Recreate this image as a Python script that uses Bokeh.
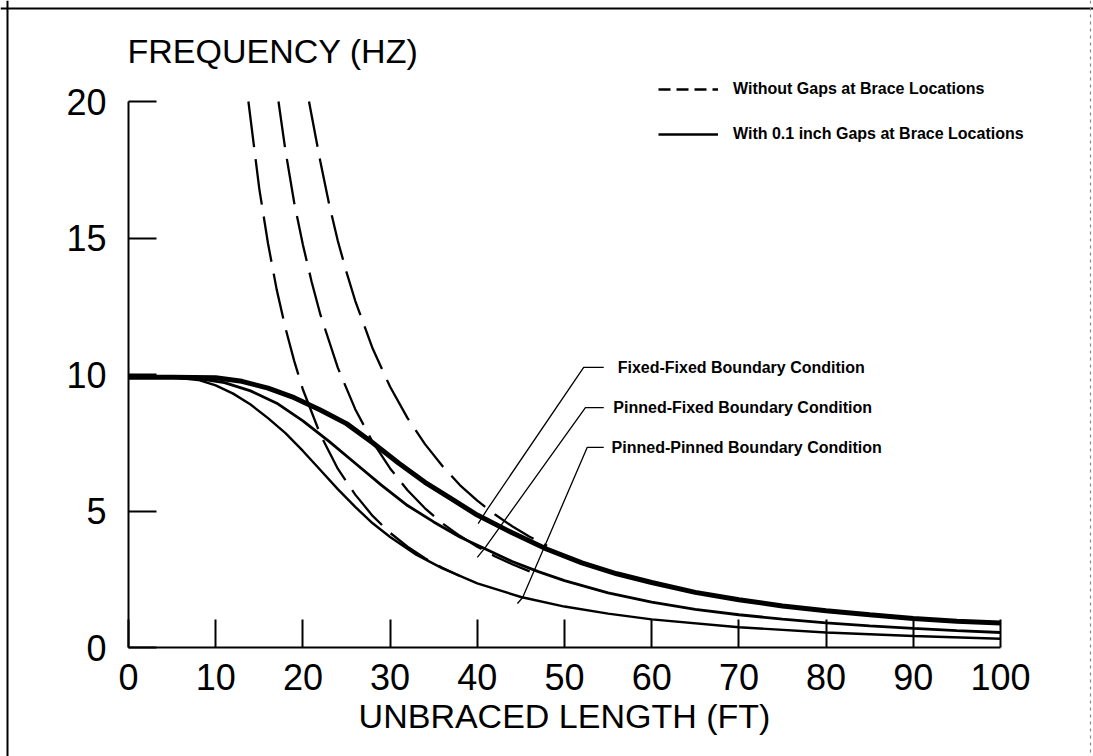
from bokeh.plotting import figure
from bokeh.models import LinearAxis, FixedTicker, Span, Legend, LegendItem, Range1d
from bokeh.core.properties import value
from bokeh.embed import file_html
from bokeh.resources import INLINE

# ---------------- data ----------------
x_ticks = [0, 10, 20, 30, 40, 50, 60, 70, 80, 90, 100]
y_ticks = [0, 5, 10, 15, 20]

# solid curves: with 0.1 inch gaps at brace locations
ff_gap_x = [0, 5, 10, 13, 16, 19, 22, 25, 28, 31, 34, 37, 40, 44, 48, 52, 56, 60, 65, 70, 75, 80, 85, 90, 95, 100]
ff_gap_y = [9.9, 9.9, 9.88, 9.75, 9.5, 9.15, 8.7, 8.2, 7.5, 6.75, 6.05, 5.45, 4.85, 4.2, 3.6, 3.1, 2.7, 2.38, 2.02, 1.75, 1.52, 1.35, 1.2, 1.06, 0.96, 0.9]

pf_gap_x = [0, 5, 8, 11, 14, 17, 20, 23, 26, 29, 32, 35, 38, 41, 44, 47, 50, 55, 60, 65, 70, 75, 80, 85, 90, 95, 100]
pf_gap_y = [9.9, 9.9, 9.85, 9.7, 9.4, 8.95, 8.3, 7.55, 6.75, 5.95, 5.2, 4.6, 4.05, 3.6, 3.15, 2.78, 2.45, 2.0, 1.66, 1.4, 1.2, 1.04, 0.9, 0.79, 0.7, 0.62, 0.55]

pp_gap_x = [0, 5, 8, 10, 12, 14, 16, 18, 20, 22, 24, 26, 28, 30, 33, 36, 40, 45, 50, 55, 60, 70, 80, 90, 100]
pp_gap_y = [9.9, 9.9, 9.8, 9.6, 9.3, 8.9, 8.4, 7.85, 7.2, 6.5, 5.8, 5.15, 4.55, 4.05, 3.4, 2.9, 2.35, 1.85, 1.5, 1.24, 1.03, 0.74, 0.55, 0.42, 0.32]

# dashed curves: without gaps at brace locations
ff_nogap_x = [20.7, 22, 23, 24, 25, 26, 28, 30, 32, 34, 36, 38, 40, 42, 44, 46, 48]
ff_nogap_y = [20, 17.8, 16.25, 14.9, 13.75, 12.7, 10.95, 9.55, 8.4, 7.45, 6.65, 5.95, 5.38, 4.88, 4.44, 4.06, 3.73]

pf_nogap_x = [17.2, 18, 19, 20, 21, 22, 24, 26, 28, 30, 32, 34, 36, 38, 40, 42, 44, 46]
pf_nogap_y = [20, 18.2, 16.3, 14.75, 13.4, 12.2, 10.25, 8.73, 7.53, 6.56, 5.76, 5.1, 4.55, 4.09, 3.69, 3.34, 3.05, 2.79]

pp_nogap_x = [13.75, 15, 16, 17, 18, 19, 20, 22, 24, 26, 28, 30, 32, 34, 36, 38]
pp_nogap_y = [20, 16.8, 14.8, 13.1, 11.7, 10.5, 9.45, 7.8, 6.55, 5.6, 4.82, 4.2, 3.69, 3.27, 2.92, 2.62]

# curve annotations (label text, label anchor, leader line)
ann_labels = ["Fixed-Fixed Boundary Condition",
              "Pinned-Fixed Boundary Condition",
              "Pinned-Pinned Boundary Condition"]
ann_x = [56.1, 55.6, 55.4]
ann_y = [10.26, 8.79, 7.33]
leader_xs = [[54.5, 52.2, 41.2, 40.1],
             [54.5, 52.4, 40.9, 40.0],
             [54.5, 52.6, 45.2, 44.6]]
leader_ys = [[10.26, 10.26, 5.09, 4.54],
             [8.79, 8.79, 3.66, 3.30],
             [7.33, 7.33, 1.83, 1.61]]

title_text = "FREQUENCY (HZ)"
xlabel_text = "UNBRACED LENGTH (FT)"
legend_labels = ["Without Gaps at Brace Locations",
                 "With 0.1 inch Gaps at Brace Locations"]

# ---------------- layout (pixels) ----------------
W, H = 1093, 756
X0_PX, X100_PX = 128, 1000      # x = 0 and x = 100
Y0_PX, Y20_PX = 647, 101        # y = 0 and y = 20
BORDER_L, BORDER_R, BORDER_T = 7, 1090, 8
sx = (X100_PX - X0_PX) / 100.0
sy = (Y0_PX - Y20_PX) / 20.0


def px_to_x(px):
    return (px - X0_PX) / sx


def py_to_y(py):
    return (Y0_PX - py) / sy


x_range = Range1d(px_to_x(0), px_to_x(W))
y_range = Range1d(py_to_y(H), py_to_y(0))

p = figure(width=W, height=H, x_range=x_range, y_range=y_range,
           x_axis_location=None, y_axis_location=None,
           toolbar_location=None, output_backend="svg",
           min_border_left=0, min_border_right=0,
           min_border_top=0, min_border_bottom=0)
p.outline_line_color = None
p.background_fill_color = "white"
p.border_fill_color = "white"
p.grid.grid_line_color = None
p.grid.visible = False

TICK_FONT = "Liberation Sans"

xaxis = LinearAxis(fixed_location=0, bounds=(0, 100), ticker=FixedTicker(ticks=x_ticks))
yaxis = LinearAxis(fixed_location=0, bounds=(0, 20), ticker=FixedTicker(ticks=y_ticks))
for ax in (xaxis, yaxis):
    ax.axis_line_width = 2
    ax.axis_line_color = "black"
    ax.major_tick_line_width = 2
    ax.major_tick_line_color = "black"
    ax.major_tick_in = 28
    ax.major_tick_out = 0
    ax.minor_tick_in = 0
    ax.minor_tick_out = 0
    ax.minor_tick_line_color = None
    ax.major_label_text_font = TICK_FONT
    ax.major_label_text_font_size = "36px"
    ax.major_label_text_color = "black"
xaxis.major_label_standoff = 16
yaxis.major_label_standoff = 22
xaxis.axis_label = xlabel_text
xaxis.axis_label_text_font = TICK_FONT
xaxis.axis_label_text_font_size = "34px"
xaxis.axis_label_text_font_style = "normal"
xaxis.axis_label_text_color = "black"
xaxis.axis_label_standoff = 4
p.add_layout(xaxis, "below")
p.add_layout(yaxis, "left")

# outer border of the figure
p.add_layout(Span(location=px_to_x(BORDER_L), dimension="height", line_color="black", line_width=2))
p.add_layout(Span(location=py_to_y(BORDER_T), dimension="width", line_color="black", line_width=2))
p.add_layout(Span(location=px_to_x(BORDER_R), dimension="height", line_color="#888888",
                  line_width=1.2, line_dash="3 4"))

# curves
DASH = "46 12"
r_ff_nogap = p.line(ff_nogap_x, ff_nogap_y, line_color="black", line_width=2.3, line_dash=DASH)
r_pf_nogap = p.line(pf_nogap_x, pf_nogap_y, line_color="black", line_width=2.3, line_dash=DASH)
r_pp_nogap = p.line(pp_nogap_x, pp_nogap_y, line_color="black", line_width=2.3, line_dash=DASH)

r_pp_gap = p.line(pp_gap_x, pp_gap_y, line_color="black", line_width=2.4)
r_pf_gap = p.line(pf_gap_x, pf_gap_y, line_color="black", line_width=2.8)
r_ff_gap = p.line(ff_gap_x, ff_gap_y, line_color="black", line_width=5)

# legend key styles: single-point lines (draw nothing on the plot, only a key)
key_dashed = p.line(x=ff_nogap_x[:1], y=ff_nogap_y[:1], line_color="black",
                    line_width=2.3, line_dash="12 6")
key_solid = p.line(x=pp_gap_x[:1], y=pp_gap_y[:1], line_color="black", line_width=2.3)

# leader lines and annotation labels
p.multi_line(leader_xs, leader_ys, line_color="black", line_width=1.3)
p.text(ann_x, ann_y, text=ann_labels, text_font=value(TICK_FONT), text_font_style="bold",
       text_font_size="16px", text_baseline="middle", text_align="left", text_color="black")

# y-axis title
p.text([px_to_x(127)], [py_to_y(50)], text=[title_text], text_font=value(TICK_FONT),
       text_font_size="34px", text_baseline="middle", text_align="left", text_color="black")

# legend
legend = Legend(items=[LegendItem(label=legend_labels[0], renderers=[key_dashed]),
                       LegendItem(label=legend_labels[1], renderers=[key_solid])],
                location=(658, H - 152), orientation="vertical")
legend.border_line_color = None
legend.background_fill_alpha = 0
legend.padding = 0
legend.margin = 0
legend.spacing = 9
legend.glyph_width = 60
legend.glyph_height = 36
legend.label_height = 20
legend.label_standoff = 15
legend.label_text_font = TICK_FONT
legend.label_text_font_style = "bold"
legend.label_text_font_size = "16px"
legend.label_text_baseline = "middle"
legend.label_text_color = "black"
p.add_layout(legend)

open("out.html", "w").write(file_html(p, INLINE))
